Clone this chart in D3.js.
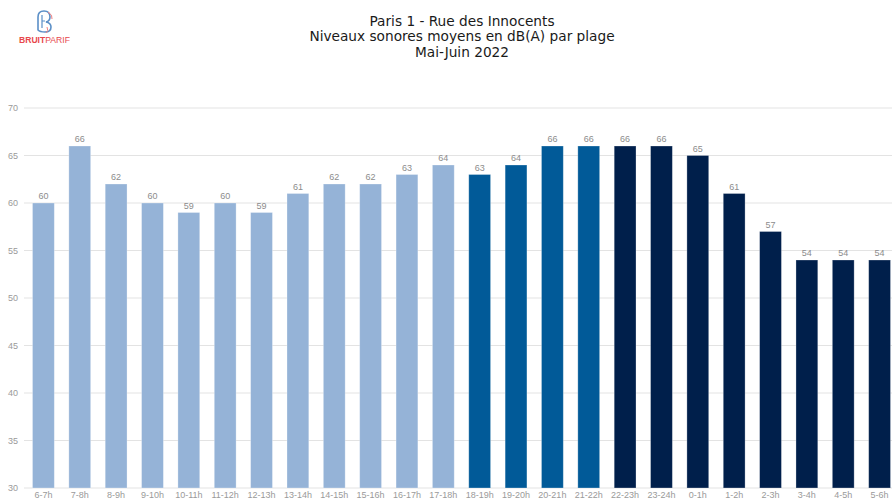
<!DOCTYPE html>
<html><head><meta charset="utf-8">
<script src="https://cdn.jsdelivr.net/npm/d3@7"></script>
<style>body{margin:0;background:#fff;}svg{display:block;}</style>
</head><body>
<svg id="c" width="892" height="500"></svg>
<script>
const categories = ["6-7h","7-8h","8-9h","9-10h","10-11h","11-12h","12-13h","13-14h","14-15h","15-16h","16-17h","17-18h","18-19h","19-20h","20-21h","21-22h","22-23h","23-24h","0-1h","1-2h","2-3h","3-4h","4-5h","5-6h"];
const values = [60,66,62,60,59,60,59,61,62,62,63,64,63,64,66,66,66,66,65,61,57,54,54,54];
const periods = ["day","day","day","day","day","day","day","day","day","day","day","day","evening","evening","evening","evening","night","night","night","night","night","night","night","night"];
const yTicks = [30,35,40,45,50,55,60,65,70];
const titleLines = ["Paris 1 - Rue des Innocents","Niveaux sonores moyens en dB(A) par plage","Mai-Juin 2022"];
const colors = {day:"#95b3d7", evening:"#015a98", night:"#001f4b"};

const svg = d3.select("#c");
const x = d3.scaleBand().domain(categories).range([32.5, 890.5]).paddingInner(0.4).paddingOuter(0);
const y = d3.scaleLinear().domain([30,70]).range([488,108]);

// grid
svg.append("g").selectAll("line").data(yTicks).join("line")
  .attr("x1",24).attr("x2",892).attr("y1",d=>y(d)).attr("y2",d=>y(d))
  .attr("stroke","#e3e3e3").attr("stroke-width",1);

// y labels
svg.append("g").selectAll("text").data(yTicks).join("text")
  .attr("x",18).attr("y",d=>y(d)+3).attr("text-anchor","end")
  .attr("font-family","Liberation Sans, Arial, sans-serif").attr("font-size",9).attr("fill","#9a9a9a")
  .text(d=>d);

// bars
svg.append("g").selectAll("rect").data(categories).join("rect")
  .attr("x",d=>x(d)).attr("width",x.bandwidth())
  .attr("y",(d,i)=>y(values[i])).attr("height",(d,i)=>y(30)-y(values[i]))
  .attr("fill",(d,i)=>colors[periods[i]])
  .attr("stroke","#ffffff").attr("stroke-opacity",0.35).attr("stroke-width",0.8);

// value labels
svg.append("g").selectAll("text").data(categories).join("text")
  .attr("x",d=>x(d)+x.bandwidth()/2).attr("y",(d,i)=>y(values[i])-4)
  .attr("text-anchor","middle")
  .attr("font-family","Liberation Sans, Arial, sans-serif").attr("font-size",9).attr("fill","#8c8c8c")
  .text((d,i)=>values[i]);

// x labels
svg.append("g").selectAll("text").data(categories).join("text")
  .attr("x",d=>x(d)+x.bandwidth()/2).attr("y",497.5)
  .attr("text-anchor","middle")
  .attr("font-family","Liberation Sans, Arial, sans-serif").attr("font-size",9).attr("fill","#9a9a9a")
  .text(d=>d);

// title
svg.append("g").selectAll("text").data(titleLines).join("text")
  .attr("x",462).attr("y",(d,i)=>25.5+i*15.5).attr("text-anchor","middle")
  .attr("font-family","DejaVu Sans, sans-serif").attr("font-size",13.7).attr("fill","#1a1a1a")
  .text(d=>d);

// logo
const logo = svg.append("g");
logo.append("path").attr("d","M38,30 L38,17 Q38,11 44,11 Q50,11 50,17 Q50,21 46,22 Q51,23 51,27 Q51,32 45,32 Q40,32 38,30 Z")
  .attr("fill","none").attr("stroke","#5b8fc7").attr("stroke-width",1.6);
logo.append("path").attr("d","M42,15 L42,28 M42,21 L45,21")
  .attr("fill","none").attr("stroke","#5b8fc7").attr("stroke-width",1.2);
logo.append("path").attr("d","M48,12 Q53,15 52,19 M47,27 Q49,31 46,33")
  .attr("fill","none").attr("stroke","#f08080").attr("stroke-width",1);
const lt = logo.append("text").attr("x",19).attr("y",43)
  .attr("font-family","Liberation Sans, Arial, sans-serif").attr("font-size",8.6).attr("fill","#e8474c");
lt.append("tspan").attr("font-weight","bold").text("BRUIT");
lt.append("tspan").text("PARIF");
</script>
</body></html>
